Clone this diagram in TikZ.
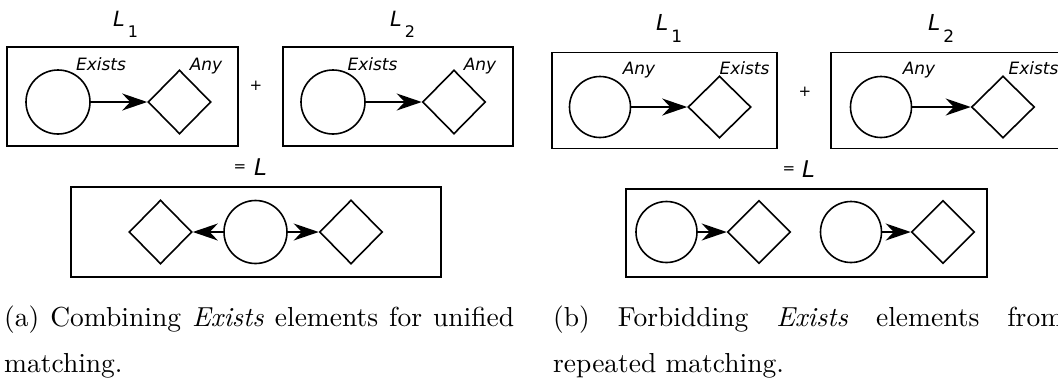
\documentclass[tikz,border=0pt]{standalone}
\usepackage{fontspec}
\setmainfont{lmroman10-regular}[Extension=.otf,ItalicFont=lmroman10-italic]
\newfontfamily\dvs[ItalicFont={DejaVu Sans Oblique}]{DejaVu Sans}
\usetikzlibrary{shapes.geometric,arrows.meta}
\begin{document}
\begin{tikzpicture}[x=1pt,y=-1pt,
  frame/.style={draw,line width=1.8pt,inner sep=0pt},
  circ/.style={circle,draw,line width=1.6pt,minimum size=#1,inner sep=0pt},
  circ/.default=64pt,
  dia/.style={diamond,draw,line width=1.6pt,minimum width=63pt,minimum height=64pt,inner sep=0pt},
  arr/.style={line width=1.6pt,-{Stealth[length=25pt,width=17pt,inset=8pt]}},
  tag/.style={font=\dvs\itshape\fontsize{17}{17}\selectfont,anchor=base,inner sep=0pt},
  op/.style={font=\dvs\fontsize{15}{15}\selectfont,inner sep=0pt},
  lab/.style={font=\dvs\itshape\fontsize{#1}{#1}\selectfont,anchor=base west,inner sep=0pt},
  captext/.style={font=\fontsize{27.5}{27.5}\selectfont,anchor=base west,inner sep=0pt}]
\useasboundingbox (0,0) rectangle (1058,384);
\clip (0,0) rectangle (1058,384);

% ---------- panel (a) ----------
\node[lab=21] (La1) at (113,26) {L\kern3pt\raisebox{-11pt}{\fontsize{16}{16}\selectfont\upshape 1}};
\node[lab=21] (La2) at (390,26) {L\kern3pt\raisebox{-11pt}{\fontsize{16}{16}\selectfont\upshape 2}};
\node[frame,minimum width=231pt,minimum height=99pt] (boxA1) at (122.5,96.5) {};
\node[frame,minimum width=230pt,minimum height=99pt] (boxA2) at (398,96.5) {};
\node[circ] (cA1) at (58,102) {};
\node[dia] (dA1) at (179.5,102) {};
\draw[arr] (cA1) -- (dA1.west);
\node[tag] (eA1) at (101,70) {Exists};
\node[tag] (aA1) at (206,70) {Any};
\node[op] (plusA) at (256,86) {+};
\node[circ] (cA2) at (333,102) {};
\node[dia] (dA2) at (454,102) {};
\draw[arr] (cA2) -- (dA2.west);
\node[tag] (eA2) at (372.5,70) {Exists};
\node[tag] (aA2) at (480,70) {Any};
\node[op] (eqA) at (240,168) {=};
\node[lab=23] (LA) at (254,175) {L};
\node[frame,minimum width=370pt,minimum height=90pt] (boxA3) at (256,232) {};
\node[dia] (dA3L) at (160.5,232) {};
\node[circ=63pt] (cA3) at (255.5,232) {};
\node[dia] (dA3R) at (351,232) {};
\draw[arr] (cA3) -- (dA3L.east);
\draw[arr] (cA3) -- (dA3R.west);
\node[captext] (capA1) at (4,326) {\makebox[510pt][s]{(a) Combining \textit{Exists} elements for unified}};
\node[captext] (capA2) at (4,372) {matching.};

% ---------- panel (b) ----------
\node[lab=22] (Lb1) at (656,30) {L\kern3pt\raisebox{-12pt}{\fontsize{17}{17}\selectfont\upshape 1}};
\node[lab=22] (Lb2) at (928,30) {L\kern3pt\raisebox{-12pt}{\fontsize{17}{17}\selectfont\upshape 2}};
\node[frame,minimum width=225pt,minimum height=96pt] (boxB1) at (664.5,100.5) {};
\node[frame,minimum width=235pt,minimum height=96pt] (boxB2) at (948.5,100.5) {};
\node[circ=61pt] (cB1) at (600,107) {};
\node[dia,minimum height=62pt] (dB1) at (719.5,107) {};
\draw[arr] (cB1) -- (dB1.west);
\node[tag] (aB1) at (639,74) {Any};
\node[tag] (eB1) at (744.5,74) {Exists};
\node[op] (plusB) at (805,92) {+};
\node[circ=61pt] (cB2) at (881,107) {};
\node[dia,minimum height=62pt] (dB2) at (1003,107) {};
\draw[arr] (cB2) -- (dB2.west);
\node[tag] (aB2) at (919,74) {Any};
\node[tag] (eB2) at (1033.5,74) {Exists};
\node[op] (eqB) at (789,170) {=};
\node[lab=23] (LB) at (802,177) {L};
\node[frame,minimum width=361pt,minimum height=88pt] (boxB3) at (806.5,233) {};
\node[circ=61pt] (cB3a) at (666.5,232) {};
\node[dia,minimum height=63pt] (dB3a) at (759,232) {};
\node[circ=61pt] (cB3b) at (851,232) {};
\node[dia,minimum height=63pt] (dB3b) at (943,232) {};
\draw[arr] (cB3a) -- (dB3a.west);
\draw[arr] (cB3b) -- (dB3b.west);
\node[captext] (capB1) at (553,326) {\makebox[510pt][s]{(b) Forbidding \textit{Exists} elements from}};
\node[captext] (capB2) at (553,372) {repeated matching.};
\end{tikzpicture}
\end{document}
